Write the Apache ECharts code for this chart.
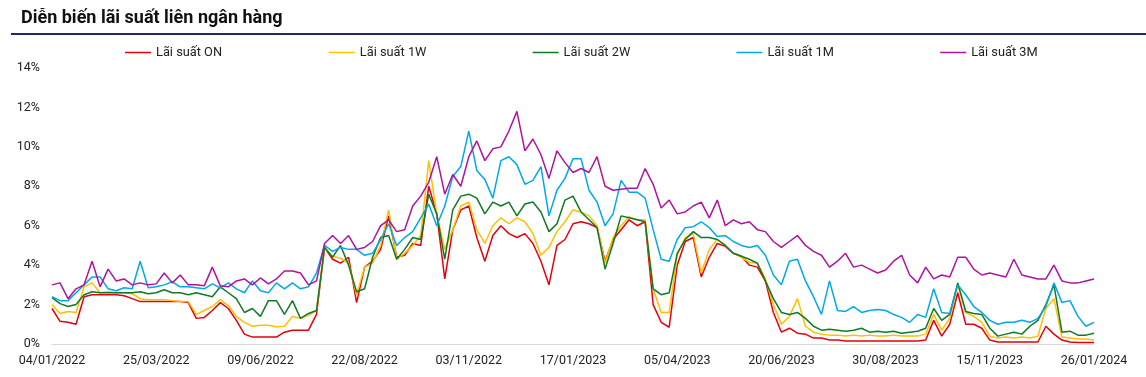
<!DOCTYPE html>
<html>
<head>
<meta charset="utf-8">
<script src="https://cdn.jsdelivr.net/npm/echarts@6/dist/echarts.min.js"></script>
<style>
  html, body { margin: 0; padding: 0; background: #fff; }
  #main { width: 1146px; height: 377px; }
</style>
</head>
<body>
<div id="main"></div>
<script>
// nhãn trục X (mỗi 13 điểm, mỗi điểm ~4 phiên)
var tickLabels = ['04/01/2022', '25/03/2022', '09/06/2022', '22/08/2022', '03/11/2022', '17/01/2023',
  '05/04/2023', '20/06/2023', '30/08/2023', '15/11/2023', '26/01/2024'];
var seriesNames = ['Lãi suất ON', 'Lãi suất 1W', 'Lãi suất 2W', 'Lãi suất 1M', 'Lãi suất 3M'];

var rateON = [1.8, 1.15, 1.1, 1.0, 2.4, 2.5, 2.5, 2.5, 2.5, 2.45, 2.3, 2.15, 2.15, 2.15,
  2.15, 2.15, 2.15, 2.1, 1.3, 1.35, 1.7, 2.1, 1.8, 1.2, 0.5, 0.35, 0.35,
  0.35, 0.35, 0.6, 0.7, 0.7, 0.7, 1.5, 4.9, 4.3, 4.1, 4.4, 2.1, 3.9,
  4.2, 4.8, 6.5, 4.4, 4.5, 5.1, 5.0, 8.0, 6.6, 3.3, 5.8, 6.8, 7.0,
  5.4, 4.2, 5.5, 6.0, 5.6, 5.4, 5.6, 5.1, 4.2, 3.0, 5.0, 5.3, 6.1,
  6.2, 6.1, 5.9, 4.2, 5.3, 5.8, 6.3, 6.0, 6.2, 2.0, 1.1, 0.85, 4.0,
  5.2, 5.4, 3.4, 4.4, 5.1, 4.95, 4.6, 4.45, 4.0, 3.9, 3.2, 1.6, 0.6,
  0.8, 0.55, 0.5, 0.3, 0.3, 0.2, 0.2, 0.15, 0.15, 0.15, 0.15, 0.15, 0.15,
  0.15, 0.15, 0.15, 0.15, 0.2, 1.2, 0.4, 1.0, 2.6, 1.0, 1.0, 0.8, 0.2,
  0.1, 0.1, 0.1, 0.1, 0.1, 0.1, 0.9, 0.5, 0.2, 0.1, 0.08, 0.08, 0.08];

var rate1W = [2.0, 1.55, 1.65, 1.6, 2.9, 3.1, 2.6, 2.65, 2.6, 2.6, 2.55, 2.3, 2.25, 2.25,
  2.25, 2.2, 2.15, 2.15, 1.5, 1.7, 1.9, 2.25, 1.95, 1.4, 1.1, 0.9, 0.95,
  0.95, 0.87, 0.9, 1.4, 1.3, 1.45, 1.7, 4.9, 4.45, 4.35, 4.1, 2.5, 3.9,
  4.1, 5.0, 6.8, 4.3, 4.6, 5.0, 5.5, 9.3, 6.6, 4.8, 5.8, 7.0, 7.2,
  5.8, 5.1, 6.0, 6.4, 6.1, 6.4, 6.2, 5.6, 4.5, 4.9, 5.7, 6.2, 6.8,
  6.7, 6.5, 6.0, 4.1, 5.4, 6.0, 6.45, 6.3, 6.3, 2.8, 1.6, 1.6, 4.5,
  5.4, 5.6, 3.6, 4.8, 5.3, 5.0, 4.6, 4.4, 4.15, 4.1, 3.3, 2.0, 1.0,
  1.4, 2.3, 0.9, 0.6, 0.5, 0.45, 0.45, 0.4, 0.45, 0.4, 0.45, 0.4, 0.4,
  0.45, 0.4, 0.4, 0.4, 0.5, 1.5, 0.7, 1.3, 3.0, 1.6, 1.4, 1.1, 0.4,
  0.3, 0.35, 0.3, 0.35, 0.3, 0.4, 1.8, 2.3, 0.35, 0.3, 0.25, 0.25, 0.2];

var rate2W = [2.35, 2.05, 1.9, 2.0, 2.5, 2.65, 2.6, 2.6, 2.6, 2.6, 2.6, 2.65, 2.55, 2.6,
  2.75, 2.6, 2.6, 2.5, 2.6, 2.5, 2.4, 2.9, 2.6, 2.3, 1.6, 1.8, 1.4,
  2.2, 2.2, 1.5, 2.2, 1.3, 1.55, 1.7, 4.9, 4.4, 5.0, 4.0, 2.65, 2.8,
  4.4, 5.4, 5.5, 4.3, 4.8, 5.4, 5.3, 7.6, 6.6, 4.3, 6.8, 7.5, 7.6,
  7.4, 6.6, 7.2, 7.0, 7.2, 6.5, 7.1, 7.2, 6.7, 5.7, 6.1, 7.3, 7.5,
  6.7, 6.3, 5.9, 3.8, 5.1, 6.5, 6.4, 6.3, 6.2, 2.8, 2.5, 2.6, 4.6,
  5.3, 5.7, 5.4, 5.4, 5.3, 5.0, 4.6, 4.45, 4.3, 4.1, 3.2, 2.3, 1.6,
  1.5, 1.6, 1.3, 0.9, 0.7, 0.75, 0.7, 0.65, 0.7, 0.8, 0.6, 0.65, 0.6,
  0.65, 0.55, 0.6, 0.65, 0.8, 1.8, 1.2, 1.5, 3.1, 1.65, 1.55, 1.5, 0.8,
  0.4, 0.5, 0.6, 0.5, 0.9, 1.2, 2.0, 3.0, 0.6, 0.65, 0.45, 0.45, 0.55];

var rate1M = [2.4, 2.2, 2.2, 2.6, 3.0, 3.4, 3.4, 2.8, 2.7, 2.85, 2.8, 4.2, 2.85, 2.9,
  3.0, 3.15, 2.9, 2.9, 2.85, 2.8, 3.05, 2.85, 3.1, 2.8, 2.6, 3.2, 2.7,
  2.6, 3.1, 2.8, 3.1, 2.8, 2.9, 3.6, 5.0, 4.7, 4.9, 4.8, 4.8, 4.5,
  4.6, 5.3, 6.1, 5.0, 5.4, 5.7, 6.4, 7.1, 6.0, 7.0, 8.5, 9.0, 10.8,
  8.8, 8.35, 7.4, 9.3, 9.5, 9.1, 8.1, 8.3, 9.0, 6.5, 7.8, 8.4, 9.4,
  9.4, 7.8, 7.2, 6.0, 6.6, 8.3, 7.7, 7.7, 7.4, 5.8, 4.3, 4.2, 5.3,
  5.9, 5.95, 6.2, 5.9, 5.45, 5.5, 5.2, 5.0, 4.9, 5.0, 4.5, 3.5, 3.0,
  4.2, 4.3, 3.2, 2.4, 1.5, 3.2, 1.7, 1.65, 1.9, 1.6, 1.7, 1.75, 1.7,
  1.5, 1.35, 1.1, 1.5, 1.35, 2.8, 1.6, 1.55, 3.0, 2.5, 1.9, 1.6, 1.2,
  1.0, 1.1, 1.1, 1.2, 1.1, 1.3, 1.9, 3.1, 2.1, 2.2, 1.4, 0.9, 1.1];

var rate3M = [3.0, 3.1, 2.3, 2.8, 3.0, 4.2, 2.9, 3.8, 3.2, 3.3, 3.0, 3.1, 3.0, 3.05,
  3.6, 3.1, 3.5, 3.0, 3.0, 2.95, 3.9, 2.95, 2.9, 3.2, 3.3, 3.0, 3.35,
  3.05, 3.3, 3.7, 3.7, 3.6, 3.0, 3.2, 5.1, 5.5, 5.1, 5.5, 4.8, 4.9,
  5.2, 6.0, 6.3, 5.7, 5.8, 7.0, 7.5, 8.2, 9.5, 7.6, 8.6, 8.0, 9.5,
  10.3, 9.3, 9.9, 10.0, 10.8, 11.8, 9.8, 10.4, 9.6, 8.4, 9.8, 9.2, 8.7,
  8.9, 8.7, 9.5, 8.0, 7.8, 7.85, 7.9, 7.9, 8.9, 8.1, 6.9, 7.3, 6.6,
  6.7, 7.0, 7.2, 6.4, 7.3, 6.0, 6.3, 6.1, 6.2, 5.8, 5.7, 5.2, 4.9,
  5.2, 5.5, 5.0, 4.7, 4.5, 3.9, 4.2, 4.6, 3.9, 4.0, 3.8, 3.6, 3.75,
  4.2, 4.5, 3.5, 3.1, 3.9, 3.3, 3.5, 3.4, 4.4, 4.4, 3.8, 3.5, 3.6,
  3.5, 3.4, 4.3, 3.5, 3.4, 3.3, 3.3, 4.0, 3.2, 3.1, 3.1, 3.2, 3.3];

var colors = ['#e3000f', '#ffc000', '#0f7a25', '#00a9e6', '#b0139f'];
var allRates = [rateON, rate1W, rate2W, rate1M, rate3M];
var step = 13; // số điểm giữa hai nhãn

var myChart = echarts.init(document.getElementById('main'));
var option = {
  color: colors,
  textStyle: { fontFamily: 'Roboto' },
  title: {
    text: 'Diễn biến lãi suất liên ngân hàng',
    left: 21,
    top: 9,
    padding: 0,
    textStyle: { fontFamily: 'Roboto', fontWeight: 'bold', fontSize: 18, color: '#111' }
  },
  graphic: [{
    type: 'rect',
    shape: { x: 11, y: 33, width: 1135, height: 2 },
    style: { fill: '#1b2a6b' }
  }],
  // mỗi mục chú thích một legend riêng để giữ khoảng cách đều
  legend: seriesNames.map(function (name, k) {
    return {
      data: [name],
      left: 125 + k * 203.8,
      top: 46,
      padding: 0,
      icon: 'rect',
      itemWidth: 26,
      itemHeight: 1.5,
      itemGap: 5,
      textStyle: { fontSize: 12.8, color: '#222' }
    };
  }),
  grid: { left: 52, right: 52, top: 68, bottom: 33 },
  xAxis: {
    type: 'value',
    min: 0,
    max: (tickLabels.length - 1) * step,
    interval: step,
    axisLine: { lineStyle: { color: '#d9d9d9', width: 1 } },
    axisTick: { show: false },
    splitLine: { show: false },
    axisLabel: {
      fontSize: 12.5,
      color: '#222',
      margin: 10,
      formatter: function (v) { return tickLabels[Math.round(v / step)]; }
    }
  },
  yAxis: {
    type: 'value',
    min: 0,
    max: 14,
    interval: 2,
    axisLine: { show: false },
    axisTick: { show: false },
    splitLine: { show: false },
    axisLabel: { fontSize: 12.5, color: '#222', margin: 12, formatter: '{value}%' }
  },
  series: seriesNames.map(function (name, k) {
    return {
      name: name,
      type: 'line',
      symbol: 'none',
      lineStyle: { width: 1.5 },
      data: allRates[k].map(function (v, i) { return [i, v]; })
    };
  })
};
myChart.setOption(option);
</script>
</body>
</html>
